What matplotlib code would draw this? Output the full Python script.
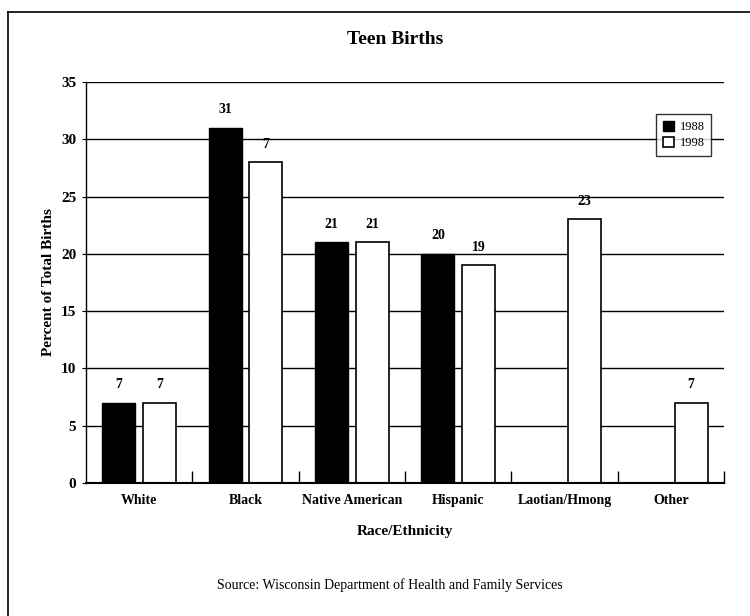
import matplotlib.pyplot as plt
import numpy as np
from matplotlib.lines import Line2D

# data
categories = ['White', 'Black', 'Native American', 'Hispanic', 'Laotian/Hmong', 'Other']
values_1988 = [7, 31, 21, 20, 0, 0]
values_1998 = [7, 28, 21, 19, 23, 7]
labels_1988 = ['7', '31', '21', '20', '', '']
labels_1998 = ['7', '7', '21', '19', '23', '7']

plt.rcParams['font.family'] = ['Liberation Serif', 'DejaVu Serif']

fig = plt.figure(figsize=(7.5, 6.16), dpi=100)
ax = fig.add_axes([86 / 750, 1 - 483 / 616, 638 / 750, 401 / 616])

x = np.arange(len(categories))
width = 0.31
offset = 0.19

# gridlines behind bars
for yv in range(5, 40, 5):
    ax.axhline(yv, color='black', linewidth=1.0, zorder=0)

bars1 = ax.bar(x - offset, values_1988, width, color='black', edgecolor='black',
               linewidth=1, label='1988', zorder=2)
bars2 = ax.bar(x + offset, values_1998, width, color='white', edgecolor='black',
               linewidth=1.2, label='1998', zorder=2)

for b, lab in zip(bars1, labels_1988):
    if lab:
        ax.text(b.get_x() + b.get_width() / 2, b.get_height() + 1.0, lab,
                ha='center', va='bottom', fontsize=10, fontweight='bold')
for b, lab in zip(bars2, labels_1998):
    if lab:
        ax.text(b.get_x() + b.get_width() / 2, b.get_height() + 1.0, lab,
                ha='center', va='bottom', fontsize=10, fontweight='bold')

ax.set_ylim(0, 35)
ax.set_xlim(-0.5, 5.5)
ax.set_yticks(range(0, 40, 5))
ax.tick_params(axis='y', direction='out', length=3, labelsize=11, pad=4)
for t in ax.get_yticklabels():
    t.set_fontweight('bold')

ax.set_xticks(x)
ax.set_xticklabels(categories, fontsize=10, fontweight='bold')
ax.tick_params(axis='x', length=0, pad=8)
ax.set_xticks(x + 0.5, minor=True)
ax.tick_params(axis='x', which='minor', direction='in', length=9, width=1)

ax.spines['right'].set_visible(False)
ax.spines['top'].set_visible(False)
ax.spines['left'].set_linewidth(1)
ax.spines['bottom'].set_linewidth(1.5)

ax.set_xlabel('Race/Ethnicity', fontsize=11, fontweight='bold', labelpad=13)
ax.set_ylabel('Percent of Total Births', fontsize=11, fontweight='bold', labelpad=4)

leg = ax.legend(loc='upper right', bbox_to_anchor=(0.99, 0.935), frameon=True,
                fancybox=False, edgecolor='black', fontsize=9, handlelength=0.9,
                handleheight=0.9, borderpad=0.5, labelspacing=0.3, handletextpad=0.5)
leg.get_frame().set_linewidth(1)

fig.text(395 / 750, 1 - 40 / 616, 'Teen Births', ha='center', va='center',
         fontsize=14, fontweight='bold')
fig.text(390 / 750, 1 - 585 / 616, 'Source: Wisconsin Department of Health and Family Services',
         ha='center', va='center', fontsize=10)

# outer frame of the scanned page
fig.add_artist(Line2D([8 / 750, 8 / 750], [0, 1 - 12 / 616], color='black', linewidth=1.2))
fig.add_artist(Line2D([8 / 750, 1], [1 - 12 / 616, 1 - 12 / 616], color='black', linewidth=1.2))

fig.savefig('out.png', dpi=100)
